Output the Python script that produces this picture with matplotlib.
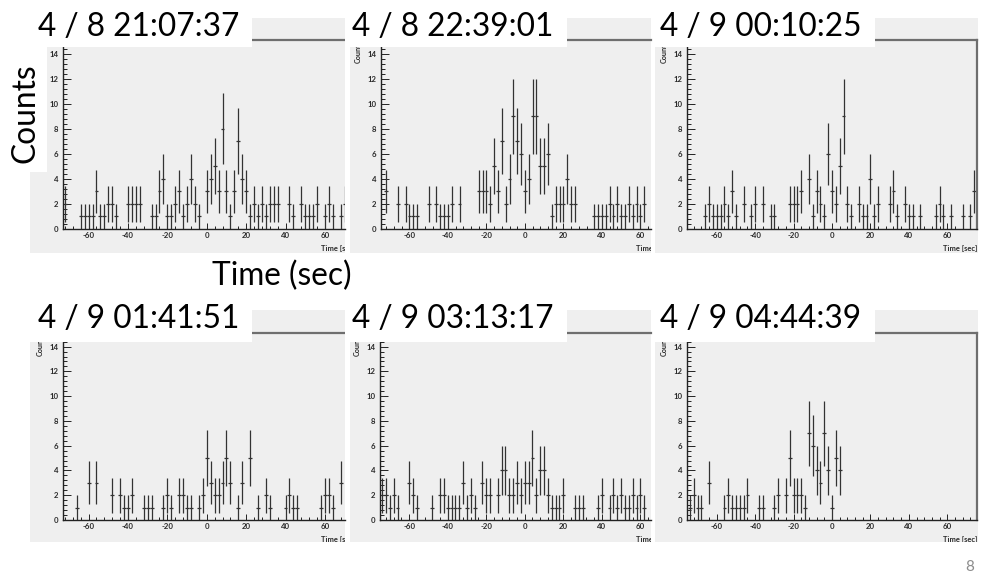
import numpy as np
import matplotlib
matplotlib.use("Agg")
import matplotlib.pyplot as plt
from matplotlib.patches import Rectangle
from matplotlib.ticker import MultipleLocator
import matplotlib.transforms as mtransforms

plt.rcParams['font.family'] = ['Lato', 'DejaVu Sans']
plt.rcParams['axes.unicode_minus'] = False

W, H = 986, 576

# counts per 2 s bin (bin centre in sec), only non-empty bins
t_1 = [-72, -64, -62, -60, -58, -56, -54, -52, -50, -48, -46, -40, -38, -36, -34, -28, -26, -24, -22, -20,
       -18, -16, -14, -12, -10, -8, -6, -4, 0, 2, 4, 6, 8, 10, 12, 14, 16, 18, 20, 22,
       24, 26, 28, 30, 32, 34, 36, 42, 44, 48, 50, 52, 54, 56, 60, 62, 64, 68, 70]
n_1 = [2, 1, 1, 1, 1, 3, 1, 1, 2, 2, 1, 2, 2, 2, 2, 1, 1, 3, 4, 1,
       1, 2, 3, 1, 2, 4, 2, 1, 3, 4, 5, 3, 8, 3, 1, 3, 7, 4, 3, 1,
       2, 1, 2, 1, 2, 2, 2, 2, 1, 2, 1, 1, 1, 2, 1, 2, 1, 1, 2]

t_2 = [-72, -66, -62, -60, -58, -56, -50, -46, -44, -42, -40, -38, -34, -24, -22, -20, -18, -16, -14, -12,
       -10, -8, -6, -4, -2, 0, 2, 4, 6, 8, 10, 12, 14, 16, 18, 20, 22, 24, 26, 36,
       38, 40, 42, 44, 46, 48, 50, 52, 54, 56, 58, 60, 62]
n_2 = [3, 2, 2, 1, 1, 1, 2, 2, 1, 1, 1, 2, 2, 3, 3, 3, 2, 5, 3, 7,
       2, 4, 9, 7, 6, 3, 4, 9, 9, 5, 5, 6, 1, 2, 2, 2, 4, 2, 2, 1,
       1, 1, 1, 2, 1, 2, 1, 1, 2, 1, 2, 1, 2]

t_3 = [-66, -64, -62, -60, -58, -56, -54, -52, -50, -46, -42, -40, -36, -32, -30, -22, -20, -18, -16, -12,
       -10, -8, -6, -4, -2, 0, 2, 4, 6, 8, 10, 14, 16, 18, 20, 22, 24, 30, 32, 34,
       38, 40, 42, 46, 54, 56, 58, 62, 68, 72, 74]
n_3 = [1, 2, 1, 1, 1, 2, 1, 3, 1, 2, 1, 2, 2, 1, 1, 2, 2, 2, 3, 4,
       1, 3, 2, 1, 6, 3, 2, 5, 9, 2, 1, 2, 1, 1, 4, 1, 2, 2, 3, 1,
       2, 1, 1, 1, 1, 2, 1, 1, 1, 1, 3]

t_4 = [-66, -60, -56, -48, -44, -42, -40, -38, -32, -30, -28, -22, -20, -18, -14, -12, -10, -8, -4, -2,
       0, 2, 4, 6, 8, 10, 12, 16, 18, 22, 26, 30, 32, 40, 42, 44, 46, 58, 60, 62,
       64, 68]
n_4 = [1, 3, 3, 2, 2, 1, 1, 2, 1, 1, 1, 1, 2, 1, 2, 2, 1, 1, 1, 2,
       5, 3, 2, 2, 3, 5, 3, 1, 3, 5, 1, 2, 1, 1, 2, 1, 1, 1, 2, 2,
       1, 3]

t_5 = [-74, -72, -70, -68, -66, -60, -58, -56, -48, -44, -42, -40, -38, -36, -34, -32, -30, -28, -26, -22,
       -20, -18, -14, -12, -10, -8, -6, -4, -2, 0, 2, 4, 6, 8, 10, 12, 14, 16, 18, 20,
       26, 28, 30, 38, 40, 44, 46, 48, 50, 52, 54, 56, 58, 60, 62]
n_5 = [2, 2, 1, 2, 1, 3, 2, 1, 1, 2, 2, 1, 1, 1, 1, 3, 1, 2, 1, 3,
       2, 2, 2, 4, 4, 2, 2, 3, 2, 3, 3, 5, 2, 4, 4, 2, 1, 1, 1, 2,
       1, 1, 1, 1, 2, 1, 2, 1, 2, 1, 1, 2, 1, 2, 1]

t_6 = [-74, -72, -70, -68, -64, -56, -54, -52, -50, -48, -46, -44, -38, -36, -30, -28, -24, -22, -20, -18,
       -16, -14, -12, -10, -8, -6, -4, -2, 0, 2, 4]
n_6 = [1, 2, 1, 1, 3, 1, 2, 1, 1, 1, 1, 2, 1, 1, 1, 2, 2, 5, 2, 2,
       2, 1, 7, 6, 4, 3, 7, 4, 1, 5, 4]

titles = ["4 / 8 21:07:37", "4 / 8 22:39:01", "4 / 9 00:10:25",
          "4 / 9 01:41:51", "4 / 9 03:13:17", "4 / 9 04:44:39"]
times = [t_1, t_2, t_3, t_4, t_5, t_6]
counts = [n_1, n_2, n_3, n_4, n_5, n_6]

# pixel boxes (left, top, right, bottom), image coords
pads = [(30, 18, 345, 253), (350, 18, 651, 253), (655, 18, 978, 253),
        (30, 310, 345, 542), (350, 310, 651, 542), (655, 310, 978, 542)]
frames = [(63, 40, 345, 229), (381, 40, 651, 229), (687, 40, 977, 229),
          (63, 333, 345, 520), (380, 333, 651, 520), (687, 333, 977, 520)]
xlims = [(-73, 70.2), (-74.8, 65.5), (-75.5, 75.5),
         (-73, 70.2), (-75.1, 65.5), (-75.5, 75.5)]
title_boxes = [(30, 0, 252, 47), (345, 0, 567, 47), (655, 0, 875, 47),
               (30, 295, 252, 342), (345, 295, 567, 342), (655, 295, 875, 342)]
title_pos = [(38, 36), (352, 36), (660, 36), (38, 328), (352, 328), (660, 328)]
full_frame = [False, False, True, False, False, True]

PAD_GREY = '#efefef'
INK = '#333333'


def rect(box):
    l, t, r, b = box
    return [l / W, 1 - b / H, (r - l) / W, (b - t) / H]


fig = plt.figure(figsize=(W / 100, H / 100), dpi=100)

for i in range(6):
    pad = fig.add_axes(rect(pads[i]), zorder=0)
    pad.set_facecolor(PAD_GREY)
    pad.set_xticks([])
    pad.set_yticks([])
    for s in pad.spines.values():
        s.set_visible(False)

    ax = fig.add_axes(rect(frames[i]), zorder=1)
    ax.set_facecolor(PAD_GREY)
    t = np.array(times[i], dtype=float)
    n = np.array(counts[i], dtype=float)
    ax.errorbar(t, n, xerr=1.0, yerr=np.sqrt(n), fmt='none',
                ecolor=INK, elinewidth=0.9, capsize=0)
    ax.set_xlim(*xlims[i])
    ax.set_ylim(0, 15.1)

    ax.xaxis.set_major_locator(MultipleLocator(20))
    ax.xaxis.set_minor_locator(MultipleLocator(4))
    ax.yaxis.set_major_locator(MultipleLocator(2))
    ax.yaxis.set_minor_locator(MultipleLocator(0.4))
    ax.tick_params(which='both', direction='in', colors='#222222', width=0.7,
                   labelsize=5.6, labelcolor='#2a2a2a')
    ax.tick_params(axis='y', which='major', length=5.5, pad=3.2)
    ax.tick_params(axis='y', which='minor', length=2.8)
    ax.tick_params(axis='x', which='major', length=4, pad=2)
    ax.tick_params(axis='x', which='minor', length=2.2)
    for lab in ax.get_xticklabels() + ax.get_yticklabels():
        lab.set_fontweight('bold')

    ax.spines['left'].set_color('#222222')
    ax.spines['bottom'].set_color('#222222')
    ax.spines['left'].set_linewidth(1.0)
    ax.spines['bottom'].set_linewidth(1.0)
    ax.spines['top'].set_color('#6e6e6e')
    ax.spines['top'].set_linewidth(1.6)
    ax.spines['right'].set_color('#6e6e6e')
    ax.spines['right'].set_linewidth(1.6)
    ax.spines['right'].set_visible(full_frame[i])

    # small ROOT axis titles
    fw = frames[i][2] - frames[i][0]
    ax.text(-23 / fw, 1.0, "Counts", transform=ax.transAxes, rotation=90,
            ha='center', va='top', fontsize=5.2, fontweight='bold', color='#2a2a2a')
    tr = mtransforms.blended_transform_factory(ax.transData, ax.transAxes)
    xl = ax.text(75.5, -0.085, "Time [sec]", transform=tr, ha='right', va='top',
                 fontsize=5.4, fontweight='bold', color='#2a2a2a')
    xl.set_clip_box(pad.bbox)
    xl.set_clip_on(True)

    # white caption box with the date and time
    l, tp, r, b = title_boxes[i]
    fig.add_artist(Rectangle((l / W, 1 - b / H), (r - l) / W, (b - tp) / H,
                             transform=fig.transFigure, facecolor='white',
                             edgecolor='none', zorder=5))
    x0, y0 = title_pos[i]
    fig.text(x0 / W, 1 - y0 / H, titles[i], ha='left', va='baseline',
             fontsize=22.8, color='black', zorder=6)

# big slide labels
fig.add_artist(Rectangle((0, 1 - 172 / H), 47 / W, (172 - 40) / H,
                         transform=fig.transFigure, facecolor='white',
                         edgecolor='none', zorder=5))
fig.text(25 / W, 1 - 113 / H, "Counts", rotation=90, ha='center', va='center',
         fontsize=22.8, color='black', zorder=6)
fig.text(282 / W, 1 - 285 / H, "Time (sec)", ha='center', va='baseline',
         fontsize=22.8, color='black', zorder=6)
fig.text(970 / W, 1 - 567 / H, "8", ha='center', va='center',
         fontsize=11, color='#8c8c8c', zorder=6)

fig.savefig("out.png", dpi=100)
